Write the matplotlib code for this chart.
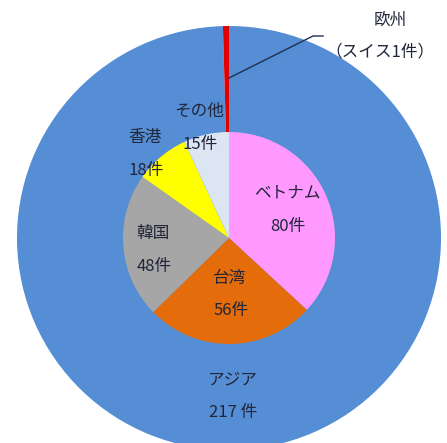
import matplotlib.pyplot as plt

plt.rcParams['font.family'] = ['Noto Sans CJK JP', 'DejaVu Sans']

# outer ring: regions
regions = ["アジア", "欧州"]
region_counts = [217, 1]
region_colors = ["#558ED5", "#E00000"]

# inner pie: countries within Asia
countries = ["ベトナム", "台湾", "韓国", "香港", "その他"]
country_counts = [80, 56, 48, 18, 15]
country_colors = ["#FF99FF", "#E46C0A", "#A6A6A6", "#FFFF00", "#DCE6F2"]

fig = plt.figure(figsize=(4.47, 4.43), dpi=100)
ax = fig.add_axes([0, 0, 1, 1])

cx, cy = 229, 205
ax.pie(region_counts, colors=region_colors, center=(cx, cy), radius=212,
       startangle=90, counterclock=False, frame=True)
ax.pie(country_counts, colors=country_colors, center=(cx, cy), radius=106,
       startangle=90, counterclock=False, frame=True)

ax.set_xlim(0, 447)
ax.set_ylim(0, 443)
ax.set_aspect("equal")
ax.axis("off")

txt = "#22263a"
fs = 12
labels = {
    "ベトナム": (287, 250), "台湾": (230, 165), "韓国": (153, 210),
    "香港": (145, 306), "その他": (199, 332),
}
for name, n in zip(countries, country_counts):
    x, y = labels[name]
    ax.text(x, y, name, ha="center", va="center", fontsize=fs, color=txt)
    ax.text(x + 1, y - 33, f"{n}件", ha="center", va="center",
            fontsize=fs, color=txt)

ax.text(233, 63, regions[0], ha="center", va="center", fontsize=fs, color=txt)
ax.text(233, 30, f"{region_counts[0]} 件", ha="center", va="center",
        fontsize=fs, color=txt)

# leader line for the single European case
ax.plot([229, 313, 323], [365, 407, 407], color="#1F2F4F", lw=1)
ax.text(390, 423, regions[1], ha="center", va="center", fontsize=fs, color=txt)
ax.text(380, 391, f"（スイス{region_counts[1]}件）", ha="center", va="center",
        fontsize=fs, color=txt)

fig.savefig("out.png", dpi=100)
